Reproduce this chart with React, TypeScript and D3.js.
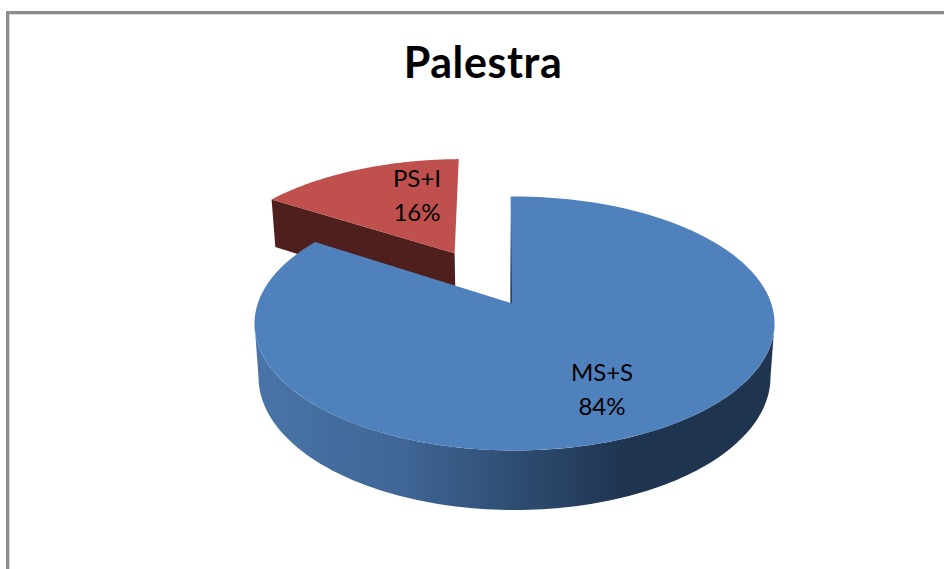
import { useEffect, useRef } from "react";
import * as d3 from "d3";

const title = "Palestra";
const categories = ["MS+S", "PS+I"];
const values = [84.3, 15.7];
const percentLabels = ["84%", "16%"];

const W = 944, H = 569;

// disc projections, k is the perspective term of the tilted pie
const k = -0.16;
const topDisc = { cx: 514.5, cy: 323.5, rx: 260, ry: 127 };
const baseDisc = { cx: 514.5, cy: 377, rx: 256, ry: 133 };
const rotation = (-1 * Math.PI) / 180;
const explode = 0.494;

type Disc = typeof topDisc;
type Pt = [number, number];

function project(d: Disc, u: number, v: number): Pt {
  const w = 1 + k * v;
  return [d.cx + (d.rx * u * Math.sqrt(1 - k * k)) / w, d.cy + (d.ry * (v + k)) / w];
}

export default function App() {
  const ref = useRef<SVGSVGElement>(null);
  useEffect(() => {
    if (!ref.current) return;
    const svg = d3.select(ref.current);
    svg.selectAll("*").remove();
    svg.attr("viewBox", `0 0 ${W} ${H}`);

    // frame
    svg.append("path").attr("d", `M7.5 ${H}V12.5H${W}`).attr("fill", "none").attr("stroke", "#8c8c8c").attr("stroke-width", 3);
    svg.append("path").attr("d", `M9.5 ${H}V14.5H${W}`).attr("fill", "none").attr("stroke", "#dcdcdc").attr("stroke-width", 1);

    svg.append("text").attr("x", 483).attr("y", 78).attr("text-anchor", "middle")
      .attr("font-family", "Lato").attr("font-weight", 700).attr("font-size", 43)
      .attr("letter-spacing", 0.6).attr("fill", "#000").text(title);

    const defs = svg.append("defs");
    const grad = defs.append("linearGradient").attr("id", "blueWall").attr("gradientUnits", "userSpaceOnUse")
      .attr("x1", 258).attr("x2", 770).attr("y1", 0).attr("y2", 0);
    grad.append("stop").attr("offset", "0%").attr("stop-color", "#4a74a8");
    grad.append("stop").attr("offset", "28%").attr("stop-color", "#3f6696");
    grad.append("stop").attr("offset", "72%").attr("stop-color", "#1f344f");
    grad.append("stop").attr("offset", "100%").attr("stop-color", "#1f344f");
    const edge = defs.append("linearGradient").attr("id", "innerEdge").attr("gradientUnits", "userSpaceOnUse")
      .attr("x1", 0).attr("x2", 0).attr("y1", 215).attr("y2", 290);
    edge.append("stop").attr("offset", "0%").attr("stop-color", "#1f344f").attr("stop-opacity", 0);
    edge.append("stop").attr("offset", "100%").attr("stop-color", "#1f344f").attr("stop-opacity", 1);

    const pie = d3.pie<number>().sort(null).startAngle(rotation).endAngle(rotation + Math.PI * 2);
    const arcs = pie(values);
    const line = d3.line().curve(d3.curveLinearClosed);

    const rim = (a0: number, a1: number, du: number, dv: number, disc: Disc): Pt[] =>
      d3.range(0, 121).map((i) => {
        const a = a0 + ((a1 - a0) * i) / 120;
        return project(disc, Math.sin(a) + du, -Math.cos(a) + dv);
      });

    // exploded slice
    const s = arcs[1];
    const mid = (s.startAngle + s.endAngle) / 2;
    const du = Math.sin(mid) * explode - 0.008, dv = -Math.cos(mid) * explode;
    const redTop = rim(s.startAngle, s.endAngle, du, dv, topDisc);
    const redApex = project(topDisc, du, dv);
    const redBaseApex = project(baseDisc, du, dv);
    const redBaseStart = project(baseDisc, Math.sin(s.startAngle) + du, -Math.cos(s.startAngle) + dv);
    svg.append("path").attr("d", line([redTop[0], redApex, redBaseApex, redBaseStart])!).attr("fill", "#4e1f1d");
    svg.append("path").attr("d", line([redApex, ...redTop])!).attr("fill", "#c0504d");

    // main slice: wall between the widest points of the two discs, then top face
    const b = arcs[0];
    const apexU = -0.013;
    const blueTop = rim(b.startAngle, b.endAngle, 0, 0, topDisc);
    const wallFrom = Math.PI / 2 + Math.asin(-k), wallTo = (Math.PI * 3) / 2 - Math.asin(-k);
    const wallTop = rim(wallFrom, wallTo, 0, 0, topDisc);
    const wallBase = rim(wallFrom, wallTo, 0, 0, baseDisc);
    svg.append("path").attr("d", line([...wallTop, ...wallBase.reverse()])!).attr("fill", "url(#blueWall)");
    const apex = project(topDisc, apexU, 0);
    svg.append("path").attr("d", line([apex, ...blueTop])!).attr("fill", "#4f81bd");
    svg.append("path").attr("d", d3.line()([blueTop[0], apex])!).attr("fill", "none")
      .attr("stroke", "url(#innerEdge)").attr("stroke-width", 1.5);

    // labels
    const labelAt: Pt[] = [[602, 381], [417, 187]];
    categories.forEach((c, i) => {
      const t = svg.append("text").attr("text-anchor", "middle").attr("font-family", "Lato")
        .attr("font-size", 24).attr("fill", "#000");
      t.append("tspan").attr("x", labelAt[i][0]).attr("y", labelAt[i][1]).text(c);
      t.append("tspan").attr("x", labelAt[i][0]).attr("y", labelAt[i][1] + 34).text(percentLabels[i]);
    });
  }, []);
  return <svg ref={ref} width={W} height={H} style={{ position: "absolute", left: 0, top: 0, background: "#fff" }} />;
}
